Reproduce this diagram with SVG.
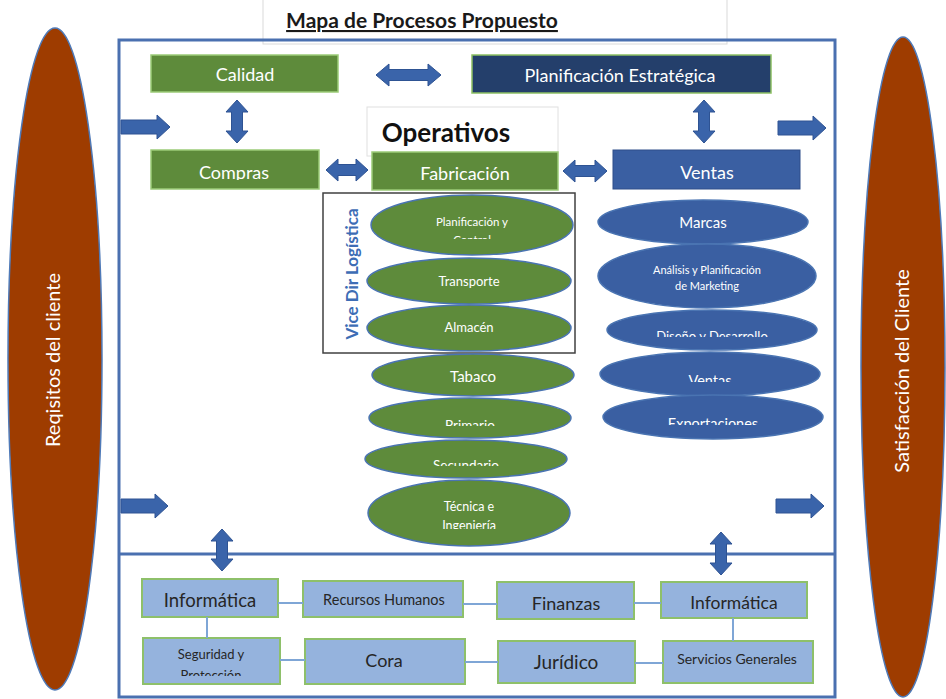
<svg xmlns="http://www.w3.org/2000/svg" width="946" height="699" viewBox="0 0 946 699">
  <style>
    text { font-family: Lato, "Open Sans", "Liberation Sans", sans-serif; text-anchor: middle; }
    .w { fill: #ffffff; }
    .dk { fill: #262626; }
    .green { fill: #5E8B3B; stroke: #9CCB78; stroke-width: 1.5; }
    .navy { fill: #243F6B; stroke: #8CC063; stroke-width: 1.5; }
    .blue { fill: #3A5FA2; stroke: #2F4F8A; stroke-width: 1; }
    .gell { fill: #5E8B3B; stroke: #4A74B2; stroke-width: 1.5; }
    .bell { fill: #3A5FA2; stroke: #4A74B2; stroke-width: 1.5; }
    .lb { fill: #95B3DD; stroke: #8EC06A; stroke-width: 2; }
    .brown { fill: #9E3C00; stroke: #4F7AB8; stroke-width: 1.5; }
    .arrow { fill: #3A64AA; stroke: #2E5393; stroke-width: 1; }
    .link { stroke: #7FA6D6; stroke-width: 2; fill: none; }
  </style>
  <defs>
    <clipPath id="clipCompras"><rect x="150" y="150" width="170" height="30"/></clipPath>
    <clipPath id="clipPlan"><rect x="380" y="205" width="180" height="34"/></clipPath>
    <clipPath id="clipPrim"><rect x="380" y="405" width="180" height="21"/></clipPath>
    <clipPath id="clipSec"><rect x="380" y="446" width="180" height="20"/></clipPath>
    <clipPath id="clipTec"><rect x="380" y="490" width="180" height="39"/></clipPath>
    <clipPath id="clipDis"><rect x="610" y="318" width="200" height="19"/></clipPath>
    <clipPath id="clipVen"><rect x="610" y="362" width="200" height="20"/></clipPath>
    <clipPath id="clipExp"><rect x="610" y="405" width="200" height="20"/></clipPath>
    <clipPath id="clipSeg"><rect x="145" y="640" width="135" height="36"/></clipPath>
  </defs>

  <rect width="946" height="699" fill="#ffffff"/>

  <!-- title -->
  <g id="title">
    <rect x="263" y="-1" width="464" height="45" fill="#ffffff" stroke="#d9d9d9" stroke-width="1"/>
    <text x="422" y="28" font-size="21" font-weight="bold" fill="#1a1a1a" text-decoration="underline">Mapa de Procesos Propuesto</text>
  </g>

  <!-- outer frame with support band -->
  <g id="frame">
    <rect x="119" y="40" width="716" height="657" fill="none" stroke="#4A70B0" stroke-width="3"/>
    <line x1="119" y1="554" x2="835" y2="554" stroke="#4A70B0" stroke-width="3"/>
  </g>

  <!-- customer side ellipses -->
  <g id="requisitos">
    <ellipse class="brown" cx="55" cy="359" rx="47" ry="331"/>
    <text class="w" font-size="20" transform="translate(60,360) rotate(-90)">Reqisitos del cliente</text>
  </g>
  <g id="satisfaccion">
    <ellipse class="brown" cx="903" cy="367" rx="42" ry="330"/>
    <text class="w" font-size="20" transform="translate(909,371) rotate(-90)">Satisfacción del Cliente</text>
  </g>

  <!-- strategic row -->
  <g id="calidad">
    <rect class="green" x="151" y="55" width="187" height="37"/>
    <text class="w" x="245" y="81" font-size="18">Calidad</text>
  </g>
  <g id="planificacion-estrategica">
    <rect class="navy" x="472" y="55" width="299" height="38"/>
    <text class="w" x="620" y="82" font-size="18">Planificación Estratégica</text>
  </g>

  <!-- operative row -->
  <g id="compras">
    <rect class="green" x="151" y="150" width="168" height="39"/>
    <text class="w" x="234" y="179" font-size="18" clip-path="url(#clipCompras)">Compras</text>
  </g>
  <g id="operativos">
    <rect x="367" y="107" width="191" height="49" fill="#ffffff" stroke="#e0e0e0" stroke-width="1"/>
    <text x="446" y="142" font-size="26" font-weight="bold" fill="#111111">Operativos</text>
  </g>
  <g id="fabricacion">
    <rect class="green" x="372" y="152" width="186" height="38"/>
    <text class="w" x="465" y="180" font-size="18">Fabricación</text>
  </g>
  <g id="ventas">
    <rect class="blue" x="613" y="150" width="187" height="39"/>
    <text class="w" x="707" y="179" font-size="18">Ventas</text>
  </g>

  <!-- logistics frame -->
  <g id="vice-dir-logistica">
    <rect x="323" y="193" width="252" height="160" fill="#ffffff" stroke="#404040" stroke-width="1.5"/>
    <text font-size="17" font-weight="bold" fill="#3D6DB5" transform="translate(358,274) rotate(-90)">Vice Dir Logística</text>
  </g>

  <!-- fabrication areas -->
  <g id="planificacion-control">
    <ellipse class="gell" cx="472" cy="225" rx="101" ry="30"/>
    <g clip-path="url(#clipPlan)">
      <text class="w" x="472" y="226" font-size="11.5">Planificación y</text>
      <text class="w" x="472" y="244" font-size="11.5">Control</text>
    </g>
  </g>
  <g id="transporte">
    <ellipse class="gell" cx="469" cy="281" rx="102" ry="23"/>
    <text class="w" x="469" y="286" font-size="13">Transporte</text>
  </g>
  <g id="almacen">
    <ellipse class="gell" cx="469" cy="328" rx="102" ry="23"/>
    <text class="w" x="469" y="332" font-size="13">Almacén</text>
  </g>
  <g id="tabaco">
    <ellipse class="gell" cx="473" cy="375" rx="101" ry="21"/>
    <text class="w" x="473" y="382" font-size="15">Tabaco</text>
  </g>
  <g id="primario">
    <ellipse class="gell" cx="470" cy="418" rx="101" ry="20"/>
    <text class="w" x="470" y="430" font-size="13.5" clip-path="url(#clipPrim)">Primario</text>
  </g>
  <g id="secundario">
    <ellipse class="gell" cx="466" cy="459" rx="101" ry="19"/>
    <text class="w" x="466" y="470" font-size="13.5" clip-path="url(#clipSec)">Secundario</text>
  </g>
  <g id="tecnica-ingenieria">
    <ellipse class="gell" cx="469" cy="513" rx="101" ry="33"/>
    <g clip-path="url(#clipTec)">
      <text class="w" x="469" y="511" font-size="12.5">Técnica e</text>
      <text class="w" x="469" y="530" font-size="12.5">Ingeniería</text>
    </g>
  </g>

  <!-- sales areas -->
  <g id="marcas">
    <ellipse class="bell" cx="703" cy="222" rx="105" ry="22"/>
    <text class="w" x="703" y="228" font-size="15">Marcas</text>
  </g>
  <g id="analisis-marketing">
    <ellipse class="bell" cx="707" cy="276" rx="109" ry="32"/>
    <text class="w" x="707" y="274" font-size="11">Análisis y Planificación</text>
    <text class="w" x="707" y="290" font-size="11">de Marketing</text>
  </g>
  <g id="diseno-desarrollo">
    <ellipse class="bell" cx="712" cy="330" rx="105" ry="20"/>
    <text class="w" x="712" y="341" font-size="13" clip-path="url(#clipDis)">Diseño y Desarrollo</text>
  </g>
  <g id="ventas-area">
    <ellipse class="bell" cx="710" cy="374" rx="110" ry="22"/>
    <text class="w" x="710" y="386" font-size="14.5" clip-path="url(#clipVen)">Ventas</text>
  </g>
  <g id="exportaciones">
    <ellipse class="bell" cx="713" cy="417" rx="110" ry="22"/>
    <text class="w" x="713" y="429" font-size="14.5" clip-path="url(#clipExp)">Exportaciones</text>
  </g>

  <!-- support processes -->
  <g id="informatica-1">
    <rect class="lb" x="142" y="579" width="136" height="38"/>
    <text class="dk" x="210" y="607" font-size="18.5">Informática</text>
  </g>
  <g id="recursos-humanos">
    <rect class="lb" x="303" y="581" width="160" height="36"/>
    <text class="dk" x="384" y="605" font-size="14.5">Recursos Humanos</text>
  </g>
  <g id="finanzas">
    <rect class="lb" x="497" y="582" width="137" height="37"/>
    <text class="dk" x="566" y="610" font-size="18">Finanzas</text>
  </g>
  <g id="informatica-2">
    <rect class="lb" x="661" y="582" width="146" height="36"/>
    <text class="dk" x="734" y="609" font-size="17.5">Informática</text>
  </g>
  <g id="seguridad-proteccion">
    <rect class="lb" x="143" y="638" width="137" height="46"/>
    <g clip-path="url(#clipSeg)">
      <text class="dk" x="211" y="659" font-size="13">Seguridad y</text>
      <text class="dk" x="211" y="680" font-size="13">Protección</text>
    </g>
  </g>
  <g id="cora">
    <rect class="lb" x="305" y="639" width="160" height="45"/>
    <text class="dk" x="384" y="667" font-size="18">Cora</text>
  </g>
  <g id="juridico">
    <rect class="lb" x="498" y="641" width="137" height="42"/>
    <text class="dk" x="566" y="669" font-size="19">Jurídico</text>
  </g>
  <g id="servicios-generales">
    <rect class="lb" x="663" y="641" width="150" height="42"/>
    <text class="dk" x="737" y="664" font-size="14">Servicios Generales</text>
  </g>

  <!-- connectors -->
  <g id="connectors">
    <path class="arrow" d="M376,75 L389,64 L389,69.5 L428,69.5 L428,64 L441,75 L428,86 L428,80.5 L389,80.5 L389,86 Z"/>
    <path class="arrow" d="M326,170 L338,159 L338,164.5 L356,164.5 L356,159 L368,170 L356,181 L356,175.5 L338,175.5 L338,181 Z"/>
    <path class="arrow" d="M563,171 L575,160 L575,165.5 L595,165.5 L595,160 L607,171 L595,182 L595,176.5 L575,176.5 L575,182 Z"/>
    <path class="arrow" d="M237,100 L248,112 L242.5,112 L242.5,131 L248,131 L237,143 L226,131 L231.5,131 L231.5,112 L226,112 Z"/>
    <path class="arrow" d="M704,100 L715,112 L709.5,112 L709.5,131 L715,131 L704,143 L693,131 L698.5,131 L698.5,112 L693,112 Z"/>
    <path class="arrow" d="M222,529 L233,541 L227.5,541 L227.5,559 L233,559 L222,571 L211,559 L216.5,559 L216.5,541 L211,541 Z"/>
    <path class="arrow" d="M721,532 L732,544 L726.5,544 L726.5,563 L732,563 L721,575 L710,563 L715.5,563 L715.5,544 L710,544 Z"/>
    <path class="arrow" d="M121,120 L157,120 L157,115 L170,127 L157,139 L157,134 L121,134 Z"/>
    <path class="arrow" d="M778,121 L813,121 L813,116 L826,128 L813,140 L813,135 L778,135 Z"/>
    <path class="arrow" d="M121,499 L155,499 L155,494 L168,506 L155,518 L155,513 L121,513 Z"/>
    <path class="arrow" d="M776,499 L811,499 L811,494 L824,506 L811,518 L811,513 L776,513 Z"/>
    <line class="link" x1="278" y1="603" x2="303" y2="603"/>
    <line class="link" x1="463" y1="604" x2="497" y2="604"/>
    <line class="link" x1="634" y1="603" x2="661" y2="603"/>
    <line class="link" x1="207" y1="617" x2="207" y2="638"/>
    <line class="link" x1="280" y1="660" x2="305" y2="660"/>
    <line class="link" x1="465" y1="662" x2="498" y2="662"/>
    <line class="link" x1="635" y1="663" x2="663" y2="663"/>
    <line class="link" x1="733" y1="618" x2="733" y2="641"/>
  </g>
</svg>
